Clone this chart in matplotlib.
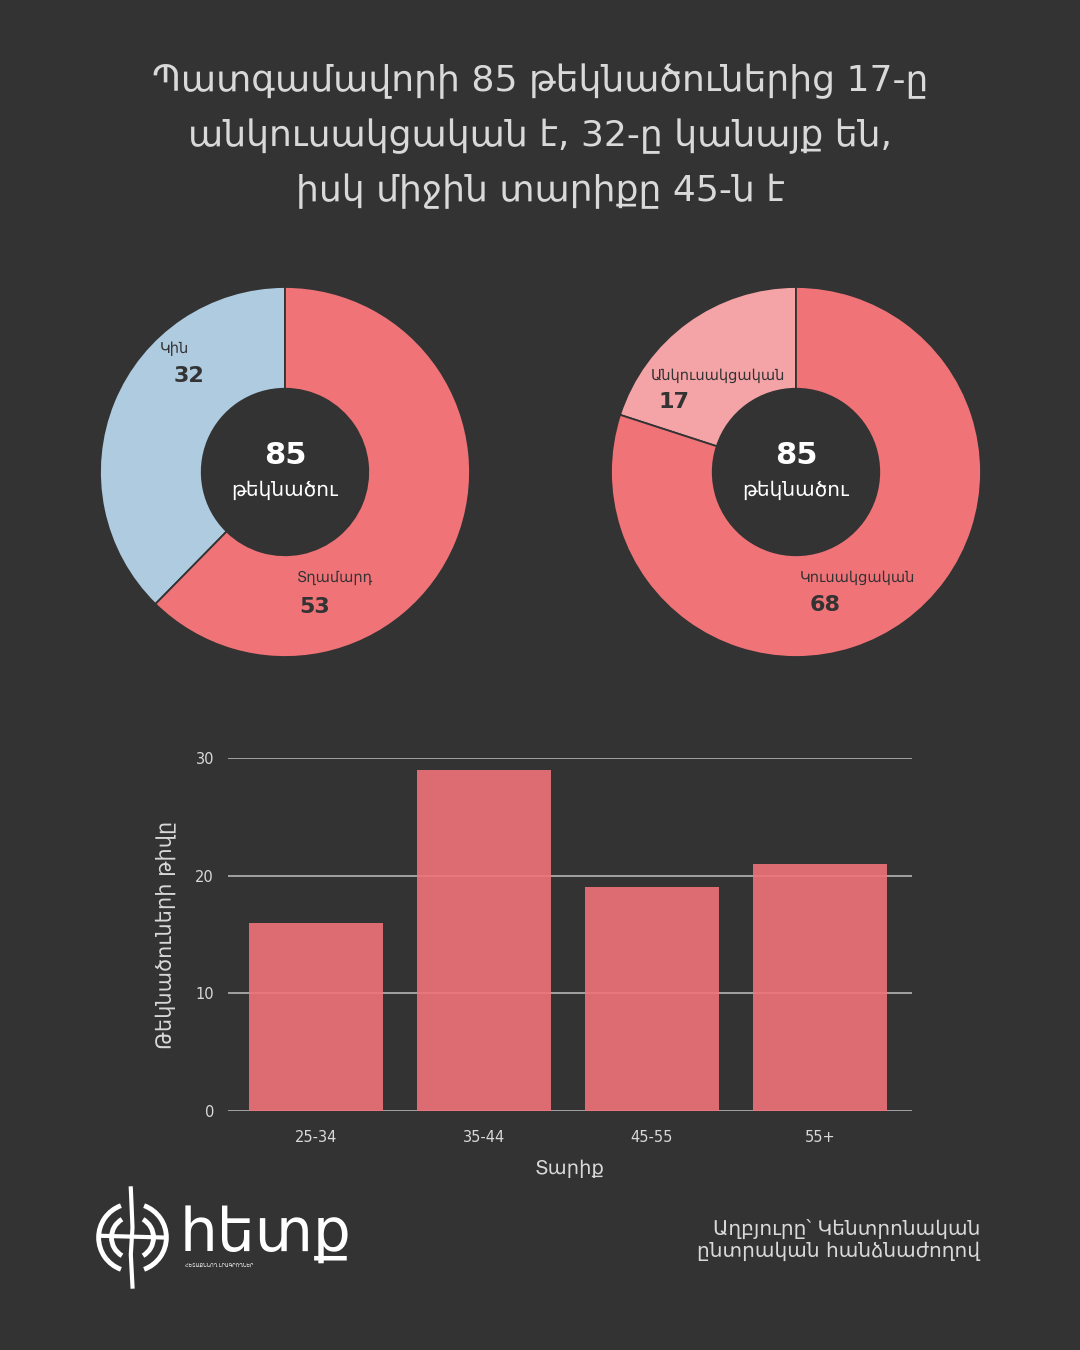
import numpy as np
import matplotlib
matplotlib.use("Agg")
from matplotlib import pyplot as plt
from matplotlib.patches import Arc

# data
title_lines = ["Պատգամավորի 85 թեկնածուներից 17-ը",
               "անկուսակցական է, 32-ը կանայք են,",
               "իսկ միջին տարիքը 45-ն է"]
gender_labels = ["Կին", "Տղամարդ"]
gender_values = [32, 53]
party_labels = ["Անկուսակցական", "Կուսակցական"]
party_values = [17, 68]
age_groups = ["25-34", "35-44", "45-55", "55+"]
age_counts = [16, 29, 19, 21]
total_label = "թեկնածու"
source_text = "Աղբյուրը՝ Կենտրոնական\nընտրական հանձնաժողով"

BG = "#333333"
RED = "#F07378"
BLUE = "#AFCBE0"
PINK = "#F4A3A6"
TXT = "#D9D9D9"
DARK = "#333333"

plt.rcParams["font.family"] = ["DejaVu Sans"]

W, H = 1080, 1350
fig = plt.figure(figsize=(W / 100, H / 100), dpi=100, facecolor=BG)


def px_axes(x0, y0, x1, y1):
    # axes from pixel box (top-left origin)
    return fig.add_axes([x0 / W, 1 - y1 / H, (x1 - x0) / W, (y1 - y0) / H])


# title
for i, line in enumerate(title_lines):
    fig.text(0.5, 1 - (81 + 55 * i) / H, line, ha="center", va="center",
             fontsize=26, color=TXT)


def donut(cx, cy, values, colors, labels, label_pos, num_pos):
    r = 185
    ax = px_axes(cx - r, cy - r, cx + r, cy + r)
    wedges, _ = ax.pie(values, colors=colors, startangle=90, counterclock=True,
                       radius=1, wedgeprops=dict(width=0.55, edgecolor=DARK,
                                                 linewidth=1.3))
    for w in wedges:
        w.set_clip_on(False)
    ax.set_xlim(-1, 1)
    ax.set_ylim(-1, 1)
    ax.set_facecolor("none")
    ax.text(0, 0.09, str(sum(values)), ha="center", va="center",
            fontsize=22, fontweight="bold", color="white")
    ax.text(0, -0.1, total_label, ha="center", va="center",
            fontsize=14.5, color="white")
    for lab, val, lp, npos in zip(labels, values, label_pos, num_pos):
        ax.text(lp[0], lp[1], lab, ha="center", va="center", fontsize=10.5,
                color=DARK)
        ax.text(npos[0], npos[1], str(val), ha="center", va="center",
                fontsize=16, fontweight="bold", color=DARK)
    return ax


donut(285, 472, gender_values, [BLUE, RED], gender_labels,
      [(-0.6, 0.67), (0.27, -0.57)], [(-0.52, 0.52), (0.16, -0.73)])
donut(796, 472, party_values, [PINK, RED], party_labels,
      [(-0.42, 0.52), (0.33, -0.57)], [(-0.66, 0.38), (0.16, -0.72)])

# bar chart
ax = px_axes(228, 758, 912, 1111)
ax.set_facecolor("none")
x = np.arange(len(age_groups))
ax.bar(x, age_counts, width=0.8, color=RED, alpha=0.9, zorder=3)
ax.set_xlim(-0.524, 3.548)
ax.set_ylim(0, 30)
ax.set_yticks([0, 10, 20, 30])
ax.set_xticks(x)
ax.set_xticklabels(age_groups)
ax.yaxis.grid(True, color="#AAAAAA", linewidth=1.3, zorder=1)
ax.set_axisbelow(True)
for s in ax.spines.values():
    s.set_visible(False)
ax.tick_params(length=0, colors=TXT, labelsize=10.5)
ax.tick_params(axis="y", pad=10)
ax.tick_params(axis="x", pad=14)
ax.set_xlabel("Տարիք", color=TXT, fontsize=14, labelpad=10)
ax.set_ylabel("Թեկնածուների թիվը", color=TXT, fontsize=15, labelpad=14)

# logo
lax = px_axes(95, 1185, 170, 1290)
lax.set_xlim(-1.1, 1.1)
lax.set_ylim(-1.55, 1.55)
lax.set_aspect("equal")
lax.axis("off")
for rr, t1, t2 in [(1.0, 110, 250), (1.0, -70, 70), (0.62, 120, 240),
                   (0.62, -60, 60)]:
    lax.add_patch(Arc((0, 0), 2 * rr, 2 * rr, theta1=t1, theta2=t2,
                      color="white", linewidth=3.5))
lax.plot([-0.05, 0.0, -0.05, 0.0], [1.45, 0.3, -0.5, -1.45], color="white",
         linewidth=3)
lax.plot([-0.9, 0.9], [0.05, 0.0], color="white", linewidth=3)
fig.text(180 / W, 1 - 1234 / H, "հետք", ha="left", va="center",
         fontsize=43, color="white")
fig.text(185 / W, 1 - 1266 / H, "ՀԵՏԱՔՆՆՈՂ ԼՐԱԳՐՈՂՆԵՐ", ha="left",
         va="center", fontsize=3.5, color="white")

fig.text(980 / W, 1 - 1240 / H, source_text, ha="right", va="center",
         fontsize=14.5, color=TXT, linespacing=1.2,
         multialignment="right")

fig.savefig("out.png", dpi=100, facecolor=BG)
